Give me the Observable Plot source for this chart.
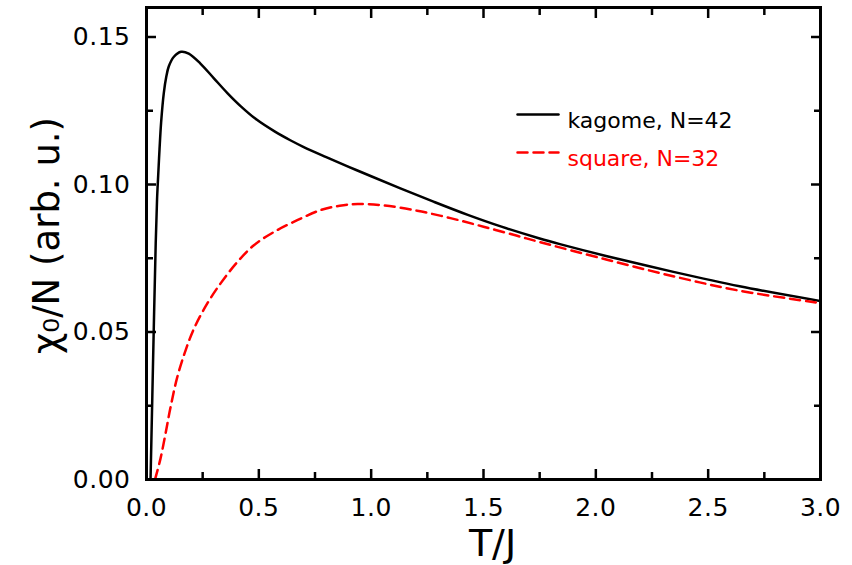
<!DOCTYPE html>
<html><head><meta charset="utf-8">
<script src="https://cdn.jsdelivr.net/npm/d3@7"></script>
<script src="https://cdn.jsdelivr.net/npm/@observablehq/plot@0.6"></script>
<style>
html,body{margin:0;padding:0;background:#fff;}
#chart svg{display:block;}
#chart svg g[aria-label="x-axis tick label"] text, #chart svg g[aria-label="y-axis tick label"] text{letter-spacing:0.5px;}
</style></head><body><div id="chart"></div>
<script>
// kagome, N=42 (black solid)
const kagomeT = [0.018, 0.026, 0.034, 0.041, 0.047, 0.052, 0.058, 0.065, 0.077, 0.088, 0.099, 0.122, 0.154, 0.188, 0.24, 0.30, 0.36, 0.42, 0.49, 0.57, 0.64, 0.70, 0.80, 0.90, 1.00, 1.13, 1.28, 1.43, 1.58, 1.75, 1.84, 2.05, 2.35, 2.64, 3.0];
const kagomeV = [0, 0.0285, 0.057, 0.080, 0.095, 0.103, 0.112, 0.121, 0.131, 0.1365, 0.140, 0.1433, 0.145, 0.1444, 0.141, 0.136, 0.131, 0.1265, 0.122, 0.118, 0.115, 0.1127, 0.1093, 0.1060, 0.1028, 0.0987, 0.0941, 0.0897, 0.0857, 0.0817, 0.0798, 0.0757, 0.0703, 0.0655, 0.0605];
// square, N=32 (red dashed)
const squareT = [0.038, 0.062, 0.085, 0.107, 0.137, 0.174, 0.211, 0.27, 0.329, 0.404, 0.478, 0.567, 0.671, 0.774, 0.86, 0.94, 1.056, 1.205, 1.353, 1.50, 1.65, 1.75, 2.05, 2.35, 2.64, 3.0];
const squareV = [0, 0.0070, 0.0157, 0.0245, 0.0347, 0.0438, 0.0511, 0.0596, 0.0664, 0.0737, 0.0794, 0.0839, 0.0879, 0.0913, 0.0928, 0.0934, 0.0929, 0.0911, 0.0886, 0.0857, 0.0826, 0.0805, 0.0745, 0.0688, 0.0640, 0.0598];

const xMajor = [0, 0.5, 1.0, 1.5, 2.0, 2.5, 3.0];
const xMinor = [0.25, 0.75, 1.25, 1.75, 2.25, 2.75];
const yMajor = [0, 0.05, 0.10, 0.15];
const yMinor = [0.025, 0.075, 0.125];
const seriesNames = ["kagome, N=42", "square, N=32"];
const xLabel = "T/J";
const yLabel = "χ₀/N (arb. u.)";

const kagome = kagomeT.map((T, i) => ({T, v: kagomeV[i]}));
const square = squareT.map((T, i) => ({T, v: squareV[i]}));

const FONT = '"DejaVu Sans",sans-serif';
const none = () => "";
const hline = {draw(ctx, l) { ctx.moveTo(0, 0); ctx.lineTo(l, 0); }};

const chart = Plot.plot({
  width: 852, height: 565,
  marginLeft: 146, marginRight: 32, marginTop: 7, marginBottom: 86,
  style: {fontFamily: FONT, background: "#fff", color: "#000"},
  x: {domain: [0, 3]},
  y: {domain: [0, 0.16]},
  marks: [
    Plot.line(kagome, {x: "T", y: "v", stroke: "#000", strokeWidth: 2.5, curve: "catmull-rom", clip: true}),
    Plot.line(square, {x: "T", y: "v", stroke: "#ff0000", strokeWidth: 2.5, strokeDasharray: "10,6", curve: "catmull-rom", clip: true}),
    Plot.axisX(xMajor, {anchor: "bottom", tickSize: -10, tickPadding: 29, tickFormat: d3.format(".1f"), fontSize: 25, strokeWidth: 2.5, label: null}),
    Plot.axisX(xMinor, {anchor: "bottom", tickSize: -7, tickFormat: none, strokeWidth: 2.5, label: null}),
    Plot.axisX(xMajor, {anchor: "top", tickSize: -10, tickFormat: none, strokeWidth: 2.5, label: null}),
    Plot.axisX(xMinor, {anchor: "top", tickSize: -7, tickFormat: none, strokeWidth: 2.5, label: null}),
    Plot.axisY(yMajor, {anchor: "left", tickSize: -10, tickPadding: 26, tickFormat: d3.format(".2f"), fontSize: 25, strokeWidth: 2.5, label: null}),
    Plot.axisY(yMinor, {anchor: "left", tickSize: -7, tickFormat: none, strokeWidth: 2.5, label: null}),
    Plot.axisY(yMajor, {anchor: "right", tickSize: -10, tickFormat: none, strokeWidth: 2.5, label: null}),
    Plot.axisY(yMinor, {anchor: "right", tickSize: -7, tickFormat: none, strokeWidth: 2.5, label: null}),
    Plot.frame({stroke: "#000", strokeWidth: 3}),
    Plot.text([xLabel], {frameAnchor: "bottom", dx: 9, dy: 64, fontSize: 38, lineAnchor: "middle", textAnchor: "middle", fill: "#000"}),
    Plot.text([yLabel], {frameAnchor: "left", dx: -99, dy: -8, rotate: -90, fontSize: 37, lineAnchor: "middle", textAnchor: "middle", fill: "#000"}),
    // legend
    Plot.vector([0], {frameAnchor: "top-left", dx: 371, dy: 107, length: 41, shape: hline, anchor: "start", stroke: "#000", strokeWidth: 2.5}),
    Plot.vector([0], {frameAnchor: "top-left", dx: 371, dy: 145, length: 41, shape: hline, anchor: "start", stroke: "#ff0000", strokeWidth: 2.5, strokeDasharray: "10,6"}),
    Plot.text([seriesNames[0]], {frameAnchor: "top-left", dx: 421, dy: 113, textAnchor: "start", lineAnchor: "middle", fontSize: 22, fill: "#000"}),
    Plot.text([seriesNames[1]], {frameAnchor: "top-left", dx: 421, dy: 151, textAnchor: "start", lineAnchor: "middle", fontSize: 22, fill: "#ff0000"})
  ]
});
document.getElementById("chart").appendChild(chart);
</script></body></html>
